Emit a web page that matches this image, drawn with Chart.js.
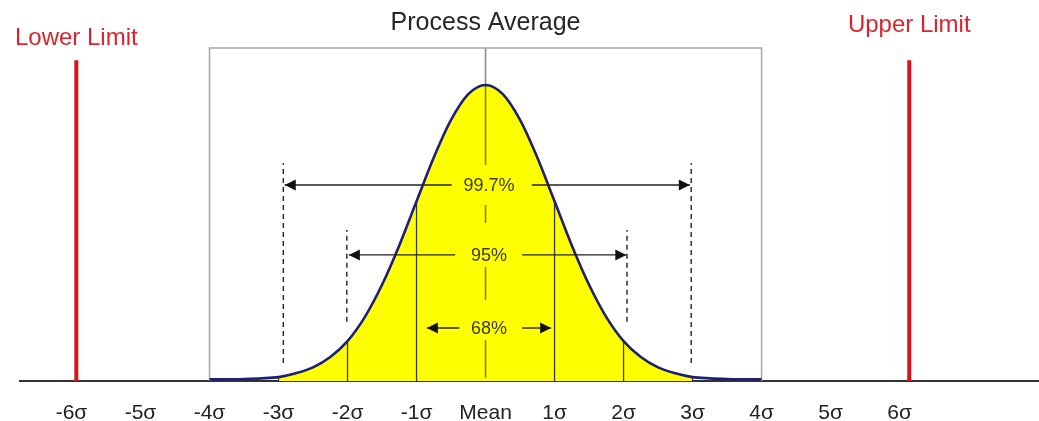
<!DOCTYPE html>
<html>
<head>
<meta charset="utf-8">
<script src="https://cdn.jsdelivr.net/npm/chart.js@4.4.0/dist/chart.umd.min.js"></script>
<style>
  html, body { margin: 0; padding: 0; background: #fff; }
  #wrap { width: 1039px; height: 421px; }
</style>
</head>
<body>
<div id="wrap"><canvas id="bell"></canvas></div>
<script>
// ====== data (x in sigma, y relative to peak) ======
const sigmaX = [-4, -3.75, -3.5, -3.25, -3, -2.75, -2.5, -2.25, -2, -1.75, -1.5, -1.25, -1, -0.75, -0.5, -0.25,
                0, 0.25, 0.5, 0.75, 1, 1.25, 1.5, 1.75, 2, 2.25, 2.5, 2.75, 3, 3.25, 3.5, 3.75, 4];
const curveY = [0.006, 0.006, 0.007, 0.009, 0.013, 0.026, 0.046, 0.081, 0.135, 0.216, 0.325, 0.458, 0.607, 0.755, 0.882, 0.969,
                1.0, 0.969, 0.882, 0.755, 0.607, 0.458, 0.325, 0.216, 0.135, 0.081, 0.046, 0.026, 0.013, 0.009, 0.007, 0.006, 0.006];

const tickValues = [-6, -5, -4, -3, -2, -1, 0, 1, 2, 3, 4, 5, 6];
const tickLabels = ["-6σ", "-5σ", "-4σ", "-3σ", "-2σ", "-1σ", "Mean", "1σ", "2σ", "3σ", "4σ", "5σ", "6σ"];

const limitX = [-5.93, 6.14];
const limitLabels = ["Lower Limit", "Upper Limit"];
const limitTop = 1.084;

const boxX = [-4, 4];
const boxTop = 1.125;
const sigmaLineX = [-3, -2, -1, 1, 2, 3];

// pieces of the mean line inside the curve (bottom, top)
const meanDashLow = [0.010, 0.274, 0.534, 0.73];
const meanDashHigh = [0.138, 0.385, 0.595, 1.0];

const rangeLabels = ["99.7%", "95%", "68%"];
const rangeY = [0.662, 0.426, 0.179];
const rangeLeft = [-2.91, -1.98, -0.85];   // arrow tips
const rangeRight = [2.96, 2.04, 0.95];
const gapLeft = [-0.49, -0.44, -0.38];
const gapRight = [0.67, 0.53, 0.53];
const rangeTextX = 0.05;

const guideX = [-2.93, 2.98, -2.01, 2.05];
const guideBottom = [0.061, 0.061, 0.2, 0.2];
const guideTop = [0.736, 0.736, 0.51, 0.51];

const FONT = '"Liberation Sans", Arial, sans-serif';

// helper
const pts = (xs, ys) => xs.map((x, i) => ({ x, y: ys[i] }));
const curveAt = (sx) => curveY[sigmaX.indexOf(sx)];
const seg = (data, color, width, order, dash) => ({
  type: "line", data, borderColor: color, borderWidth: width, borderDash: dash || [],
  pointRadius: 0, fill: false, tension: 0, order, clip: false,
});

const curvePts = pts(sigmaX, curveY);
const datasets = [];

// yellow fill between -3 and 3 sigma
datasets.push({
  type: "line", data: curvePts.filter(p => p.x >= -3 && p.x <= 3),
  borderWidth: 0, pointRadius: 0, fill: "origin", backgroundColor: "#ffff00",
  cubicInterpolationMode: "monotone", order: 10,
});

// sigma lines inside the curve
sigmaLineX.forEach(sx => datasets.push(seg([{ x: sx, y: 0 }, { x: sx, y: curveAt(sx) }], "#3a3a2a", 1.3, 8)));

// process average line
meanDashLow.forEach((lo, i) => datasets.push(seg([{ x: 0, y: lo }, { x: 0, y: meanDashHigh[i] }], "#7f7f1e", 1.6, 8)));
datasets.push(seg([{ x: 0, y: 1.0 }, { x: 0, y: boxTop }], "#8a8a8a", 1.6, 8));

// box -4σ..4σ
datasets.push(seg([{ x: boxX[0], y: 0 }, { x: boxX[0], y: boxTop }, { x: boxX[1], y: boxTop }, { x: boxX[1], y: 0 }], "#a6a6a6", 1.5, 7));

// limits
limitX.forEach(lx => datasets.push(seg([{ x: lx, y: 0 }, { x: lx, y: limitTop }], "#d7131c", 4, 7)));

// bell curve outline
datasets.push({
  type: "line", data: curvePts, borderColor: "#1f1f78", borderWidth: 2.6,
  pointRadius: 0, fill: false, cubicInterpolationMode: "monotone", order: 5, clip: false,
});

// dashed guides
guideX.forEach((gx, i) => datasets.push(seg([{ x: gx, y: guideBottom[i] }, { x: gx, y: guideTop[i] }], "#222", 1.4, 4, [5, 4])));

// arrow shafts
rangeY.forEach((ry, i) => {
  datasets.push(seg([{ x: rangeLeft[i], y: ry }, { x: gapLeft[i], y: ry }], "#222", 1.4, 3));
  datasets.push(seg([{ x: gapRight[i], y: ry }, { x: rangeRight[i], y: ry }], "#222", 1.4, 3));
});

function drawHead(ctx, tipX, tipY, dir) {
  ctx.beginPath();
  ctx.moveTo(tipX, tipY);
  ctx.lineTo(tipX - dir * 11, tipY - 5.5);
  ctx.lineTo(tipX - dir * 11, tipY + 5.5);
  ctx.closePath();
  ctx.fill();
}

const overlay = {
  id: "overlay",
  afterDatasetsDraw(chart) {
    const { ctx, scales: { x, y } } = chart;
    ctx.save();
    ctx.textAlign = "center";
    ctx.textBaseline = "middle";

    rangeLabels.forEach((lab, i) => {
      const py = y.getPixelForValue(rangeY[i]);
      ctx.fillStyle = "#111";
      drawHead(ctx, x.getPixelForValue(rangeLeft[i]), py, -1);
      drawHead(ctx, x.getPixelForValue(rangeRight[i]), py, 1);

      ctx.font = `18px ${FONT}`;
      ctx.fillStyle = "#3b3b20";
      ctx.fillText(lab, x.getPixelForValue(rangeTextX), py + 1);
    });

    ctx.font = `25px ${FONT}`;
    ctx.fillStyle = "#262626";
    ctx.fillText("Process Average", x.getPixelForValue(0), 23);

    ctx.font = `24px ${FONT}`;
    ctx.fillStyle = "#d9232d";
    ctx.fillText(limitLabels[0], x.getPixelForValue(limitX[0]), 38);
    ctx.fillText(limitLabels[1], x.getPixelForValue(limitX[1]), 25);
    ctx.restore();
  },
};

new Chart(document.getElementById("bell"), {
  type: "line",
  data: { datasets },
  options: {
    responsive: true, maintainAspectRatio: false, animation: false,
    layout: { padding: { top: 48, left: 20, right: 0, bottom: 0 } },
    plugins: { legend: { display: false }, tooltip: { enabled: false } },
    scales: {
      x: {
        type: "linear", min: -6.746, max: 8.02,
        grid: { display: false },
        border: { display: true, color: "#333", width: 2 },
        afterBuildTicks: (scale) => { scale.ticks = tickValues.map(v => ({ value: v })); },
        afterFit: (scale) => { scale.height = 40; },
        ticks: {
          padding: 12, color: "#222", maxRotation: 0,
          font: { size: 21, family: FONT },
          callback: (v) => tickLabels[tickValues.indexOf(v)],
        },
      },
      y: { type: "linear", display: false, min: 0, max: boxTop },
    },
  },
  plugins: [overlay],
});
</script>
</body>
</html>
